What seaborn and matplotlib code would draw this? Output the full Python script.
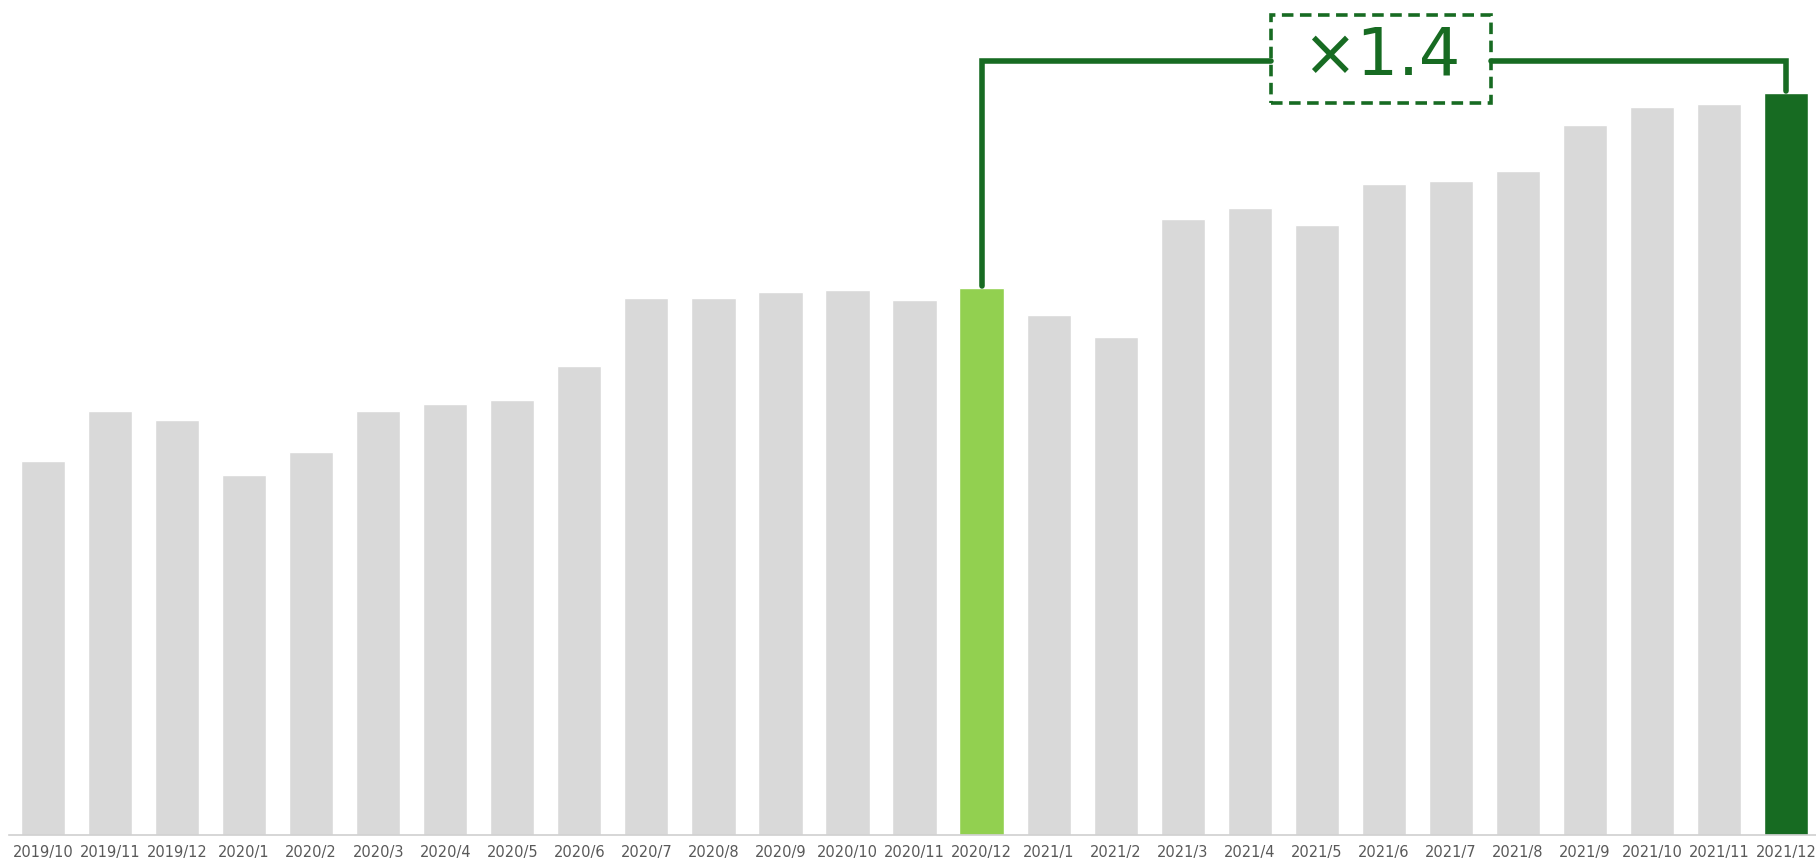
import numpy as np
import pandas as pd
import matplotlib
matplotlib.use("Agg")
import matplotlib.pyplot as plt
from matplotlib.patches import Rectangle
import seaborn as sns

months = ["2019/10", "2019/11", "2019/12", "2020/1", "2020/2", "2020/3", "2020/4",
          "2020/5", "2020/6", "2020/7", "2020/8", "2020/9", "2020/10", "2020/11",
          "2020/12", "2021/1", "2021/2", "2021/3", "2021/4", "2021/5", "2021/6",
          "2021/7", "2021/8", "2021/9", "2021/10", "2021/11", "2021/12"]
values = [323, 366, 358, 311, 331, 366, 372, 376, 405, 464, 464, 469, 471, 462,
          472, 449, 430, 532, 541, 527, 562, 565, 573, 613, 629, 631, 641]
base_month = "2020/12"
last_month = "2021/12"
ratio_label = "×1.4"

gray = "#d9d9d9"
light_green = "#92d050"
dark_green = "#176b22"

colors = {m: gray for m in months}
colors[base_month] = light_green
colors[last_month] = dark_green

df = pd.DataFrame({"month": months, "value": values})

sns.set_style("white")
plt.rcParams["font.family"] = ["DejaVu Sans"]

fig = plt.figure(figsize=(18.16, 8.6), dpi=100)
ax = fig.add_axes([0.0052, 0.029, 0.9968, 0.971])

sns.barplot(data=df, x="month", y="value", hue="month", palette=colors,
            legend=False, width=0.66, saturation=1, ax=ax)

ax.set_xlim(-0.5, len(months) - 0.5)
ax.set_ylim(0, 721)
ax.set_xlabel("")
ax.set_ylabel("")
ax.set_yticks([])
for s in ["top", "right", "left"]:
    ax.spines[s].set_visible(False)
ax.spines["bottom"].set_color("#d0d0d0")
ax.spines["bottom"].set_linewidth(1.2)

ax.set_xticks(range(len(months)))
ax.set_xticklabels(months, fontsize=10.5, color="#595959")
ax.tick_params(axis="x", which="major", length=0, pad=7)
ax.set_xticks(np.arange(-0.5, len(months), 1.0), minor=True)
ax.tick_params(axis="x", which="minor", length=5, color="#d0d0d0", width=1.2)

# bracket annotation
i0 = months.index(base_month)
i1 = months.index(last_month)
v0 = values[i0]
v1 = values[i1]
box_l, box_r = 18.31, 21.6
box_b, box_t = 632, 708
line_y = 668
lw = 4.0
ax.plot([i0, i0, box_l], [v0 + 2, line_y, line_y], color=dark_green, lw=lw,
        solid_joinstyle="miter", clip_on=False)
ax.plot([box_r, i1, i1], [line_y, line_y, v1 + 1], color=dark_green, lw=lw,
        solid_joinstyle="miter", clip_on=False)
ax.add_patch(Rectangle((box_l, box_b), box_r - box_l, box_t - box_b,
                       fill=False, edgecolor=dark_green, lw=2.6,
                       linestyle=(0, (3.2, 1.8)), clip_on=False))
ax.text((box_l + box_r) / 2, (box_b + box_t) / 2 + 2, ratio_label, ha="center",
        va="center", fontsize=47, color=dark_green)

fig.savefig("out.png", dpi=100)
